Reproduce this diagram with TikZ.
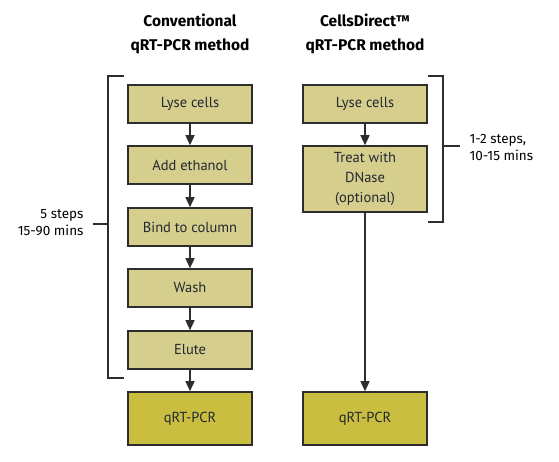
\documentclass[tikz,border=0pt]{standalone}
\usepackage{fontspec}
\newfontfamily\boxfont{PT Sans}
\newfontfamily\headfont{Fira Sans}
\definecolor{stepfill}{RGB}{214, 206, 140}
\definecolor{pcrfill}{RGB}{201, 190, 64}
\definecolor{edgegray}{RGB}{45, 45, 45}
\definecolor{txtgray}{RGB}{35, 40, 50}
\usetikzlibrary{arrows.meta, positioning}

\begin{document}
\begin{tikzpicture}[x=1pt, y=-1pt,
  stepbox/.style={draw=edgegray, line width=1.6pt, fill=#1, minimum width=124pt,
    minimum height=38pt, inner sep=0pt, align=center, text=txtgray,
    font=\boxfont\fontsize{14.5}{20}\selectfont},
  stepbox/.default=stepfill,
  head/.style={align=center, font=\headfont\bfseries\fontsize{15.5}{24}\selectfont},
  note/.style={font=\headfont\fontsize{13.5}{17}\selectfont},
  arr/.style={-{Triangle[length=10pt, width=9pt]}, line width=1.5pt, edgegray},
  brace/.style={line width=1.4pt, edgegray},
]
  \useasboundingbox (0,0) rectangle (559,462);

  % titles
  \node[head] (hconv) at (190, 34) {Conventional\\qRT-PCR method};
  \node[head] (hcell) at (365, 34) {CellsDirect\texttrademark\\qRT-PCR method};

  % conventional method
  \node[stepbox] (lyseA) at (190, 104) {Lyse cells};
  \node[stepbox] (eth) at (190, 165) {Add ethanol};
  \node[stepbox] (bind) at (190, 227) {Bind to column};
  \node[stepbox] (wash) at (190, 288) {Wash};
  \node[stepbox] (elute) at (190, 350) {Elute};
  \node[stepbox=pcrfill, minimum height=53pt] (pcrA) at (190, 418.5) {qRT-PCR};

  \draw[arr] (lyseA) -- (eth);
  \draw[arr] (eth) -- (bind);
  \draw[arr] (bind) -- (wash);
  \draw[arr] (wash) -- (elute);
  \draw[arr] (elute) -- (pcrA);

  % CellsDirect method
  \node[stepbox] (lyseB) at (365, 104) {Lyse cells};
  \node[stepbox, minimum height=66pt] (dnase) at (365, 179) {Treat with\\DNase\\(optional)};
  \node[stepbox=pcrfill, minimum height=53pt] (pcrB) at (365, 418.5) {qRT-PCR};

  \draw[arr] (lyseB) -- (dnase);
  \draw[arr] (dnase) -- (pcrB);

  % brackets
  \coordinate (la) at (124, 76);
  \coordinate (lb) at (124, 378);
  \coordinate (lm) at (93, 224);
  \draw[brace] (la) -| (108, 378) -- (lb);
  \draw[brace] (lm) -- (108, 224);
  \node[note, anchor=east, align=right] (ltxt) at (87, 223) {5 steps\\15-90 mins};

  \coordinate (ra) at (428, 76);
  \coordinate (rb) at (428, 222);
  \coordinate (rm) at (460, 146);
  \draw[brace] (ra) -| (443, 222) -- (rb);
  \draw[brace] (rm) -- (443, 146);
  \node[note, anchor=west, align=left] (rtxt) at (466, 147) {1-2 steps,\\10-15 mins};
\end{tikzpicture}
\end{document}
